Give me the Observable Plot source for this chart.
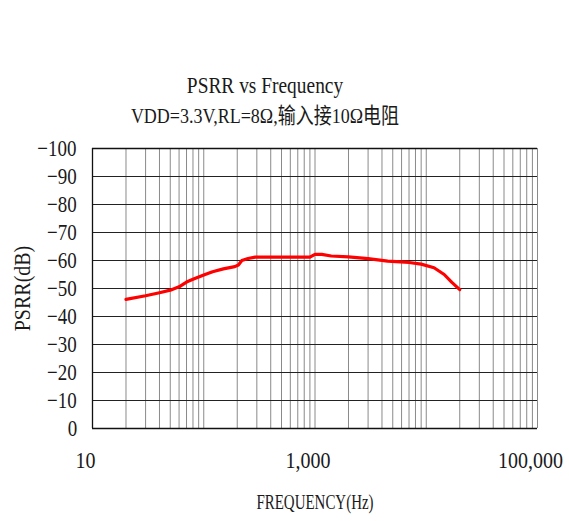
<!DOCTYPE html>
<html>
<head>
<meta charset="utf-8">
<script src="https://cdn.jsdelivr.net/npm/d3@7"></script>
<script src="https://cdn.jsdelivr.net/npm/@observablehq/plot@0.6"></script>
<style>
  body { margin: 0; background: #fff; }
  #wrap { position: relative; width: 569px; height: 521px; font-family: "Liberation Serif", "Noto Sans CJK SC", serif; color: #1a1a1a; }
  #header { position: relative; width: 569px; height: 135px; }
  .t { position: absolute; left: 0; width: 530px; text-align: center; white-space: nowrap; transform-origin: 50% 60%; }
  #t1 { top: 75px; font-size: 20px; line-height: 20px; transform: scale(0.97, 1.17); }
  #t2 { top: 106px; font-size: 18px; line-height: 20px; transform: scale(1, 1.22); }
  svg { display: block; }
</style>
</head>
<body>
<div id="wrap">
  <div id="header">
    <div class="t" id="t1">PSRR vs Frequency</div>
    <div class="t" id="t2">VDD=3.3V,RL=8Ω,输入接10Ω电阻</div>
  </div>
  <div id="chart"></div>
</div>
<script>
const freqs = [20, 30, 40, 50, 60, 70, 80, 100, 120, 150, 190, 205, 220, 250, 290, 500, 900, 1000, 1150, 1400, 2000, 3000, 4500, 7000, 9000, 11750, 14500, 17000, 20000];
const psrr  = [-46.1, -47.4, -48.5, -49.4, -50.6, -52.3, -53.3, -54.8, -56, -57, -57.8, -58.4, -60, -60.7, -61.2, -61.2, -61.2, -62.2, -62.2, -61.6, -61.3, -60.7, -59.8, -59.3, -58.7, -57.4, -55, -52.2, -49.6];
const xTicks = [10, 1000, 100000];
const yTicks = [-100, -90, -80, -70, -60, -50, -40, -30, -20, -10, 0];
const xLabel = "FREQUENCY(Hz)";
const yLabel = "PSRR(dB)";

const data = freqs.map((f, i) => ({f, v: psrr[i]}));
const gridX = [];
for (let e = 1; e <= 4; e++) for (let m = 1; m <= 9; m++) gridX.push(m * Math.pow(10, e));
gridX.push(100000);
const gridY = yTicks.filter(d => d !== 0 && d !== -100);

const font = "Liberation Serif, Noto Sans CJK SC, serif";
const chart = Plot.plot({
  width: 569,
  height: 386,
  marginTop: 13,
  marginBottom: 93,
  marginLeft: 92,
  marginRight: 32,
  style: {fontFamily: font, fontSize: "20px", color: "#1a1a1a", background: "#fff"},
  x: {type: "log", domain: [10, 100000]},
  y: {domain: [0, -100]},
  marks: [
    Plot.ruleX(gridX, {stroke: "#8a8a8a", strokeWidth: 1}),
    Plot.ruleY(gridY, {stroke: "#222", strokeWidth: 1}),
    Plot.ruleY([0, -100], {stroke: "#111", strokeWidth: 1.3}),
    Plot.ruleX([10], {stroke: "#111", strokeWidth: 1.3}),
    Plot.axisY({ticks: yTicks, tickSize: 0, tickPadding: 15, label: null, fontSize: 20, tickFormat: d => d3.format("")(d), className: "ytk"}),
    Plot.axisX({ticks: xTicks, tickSize: 0, tickPadding: 24, label: null, fontSize: 20, tickFormat: d3.format(","), dx: -7, className: "xtk"}),
    Plot.text([xLabel], {frameAnchor: "bottom", text: d => d, dy: 79, fontSize: 17, fill: "#1a1a1a", className: "xlab"}),
    Plot.text([yLabel], {frameAnchor: "left", text: d => d, dx: -70, rotate: -90, textAnchor: "middle", fontSize: 20, fill: "#1a1a1a", letterSpacing: "2.5px", className: "ylab"}),
    Plot.line(data, {x: "f", y: "v", stroke: "#ff0000", strokeWidth: 3.2, strokeLinejoin: "round", strokeLinecap: "round"})
  ]
});
document.getElementById("chart").appendChild(chart);

function stretch(selector, sx, sy) {
  chart.querySelectorAll(selector + " text").forEach(t => {
    let b;
    try { b = t.getBBox(); } catch (e) { return; }
    const cx = b.x + b.width / 2, cy = b.y + b.height / 2;
    if (!isFinite(cx) || !isFinite(cy)) return;
    const tr = t.getAttribute("transform") || "";
    t.setAttribute("transform", `${tr} translate(${cx},${cy}) scale(${sx},${sy}) translate(${-cx},${-cy})`);
  });
}
stretch(".ytk", 0.95, 1.15);
stretch(".xtk", 1, 1.15);
stretch(".xlab", 0.88, 1.2);
stretch(".ylab", 1, 1.15);
</script>
</body>
</html>
